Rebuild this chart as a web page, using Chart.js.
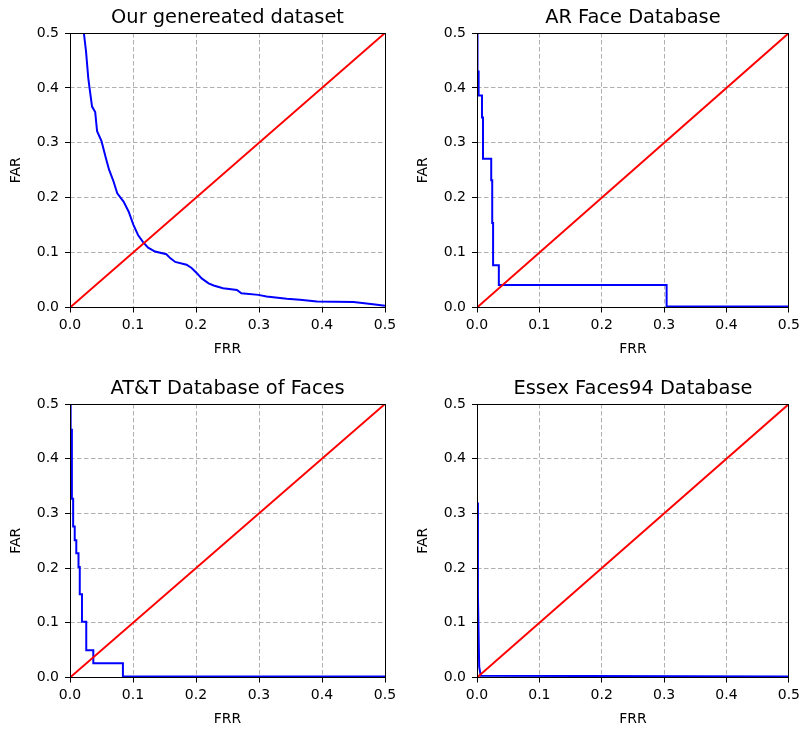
<!DOCTYPE html>
<html>
<head>
<meta charset="utf-8">
<script src="https://cdn.jsdelivr.net/npm/chart.js@4.4.1/dist/chart.umd.min.js"></script>
<style>
  html, body { margin: 0; padding: 0; background: #fff; }
  body { width: 804px; height: 731px; position: relative; overflow: hidden; }
  .panel { position: absolute; }
</style>
</head>
<body>
<div class="panel" id="p0"><canvas id="c0"></canvas></div>
<div class="panel" id="p1"><canvas id="c1"></canvas></div>
<div class="panel" id="p2"><canvas id="c2"></canvas></div>
<div class="panel" id="p3"><canvas id="c3"></canvas></div>
<script>
// values
const ourFrr = [0.022, 0.0254, 0.029, 0.031, 0.035, 0.040, 0.043, 0.050, 0.057, 0.062, 0.069, 0.075, 0.085, 0.093, 0.1005, 0.108, 0.116, 0.124, 0.135, 0.153, 0.159, 0.167, 0.185, 0.193, 0.201, 0.209, 0.220, 0.228, 0.243, 0.265, 0.272, 0.299, 0.312, 0.344, 0.365, 0.392, 0.45, 0.481, 0.5];
const ourFar = [0.5, 0.467, 0.418, 0.4, 0.366, 0.356, 0.321, 0.303, 0.272, 0.251, 0.23, 0.208, 0.193, 0.175, 0.151, 0.132, 0.119, 0.109, 0.102, 0.097, 0.09, 0.083, 0.078, 0.072, 0.063, 0.053, 0.044, 0.040, 0.035, 0.032, 0.026, 0.023, 0.020, 0.016, 0.014, 0.011, 0.010, 0.006, 0.003];

const arFrr = [0.0008, 0.0008, 0.0026, 0.008, 0.0096, 0.0228, 0.0244, 0.0258, 0.035, 0.304, 0.5];
const arFar = [0.6, 0.43, 0.386, 0.346, 0.271, 0.232, 0.154, 0.077, 0.041, 0.002, 0.002];

const attFrr = [0.001, 0.001, 0.003, 0.005, 0.0075, 0.010, 0.0135, 0.0155, 0.019, 0.0258, 0.037, 0.084, 0.5];
const attFar = [0.6, 0.453, 0.327, 0.276, 0.251, 0.227, 0.202, 0.152, 0.102, 0.05, 0.026, 0.002, 0.002];

const essexFrr = [0.0003, 0.0015, 0.0035, 0.006, 0.5];
const essexFar = [0.32, 0.15, 0.02, 0.003, 0.002];

// equal error line FAR = FRR
const eerFrr = [0, 0.5];
const eerFar = [0, 0.5];

const titles = ['Our genereated dataset', 'AR Face Database', 'AT&T Database of Faces', 'Essex Faces94 Database'];
const tickValues = [0, 0.1, 0.2, 0.3, 0.4, 0.5];

const FONT = 'DejaVu Sans';

function pts(xs, ys) {
  return xs.map((x, i) => ({ x: x, y: ys[i] }));
}

// same rounding chart.js uses for 1px grid lines
function crisp(v) {
  return Math.round(v - 0.5) + 0.5;
}

const framePlugin = {
  id: 'frame',
  afterDatasetsDraw(chart) {
    const { ctx, chartArea: a } = chart;
    const l = crisp(a.left), t = crisp(a.top), r = crisp(a.right), b = crisp(a.bottom);
    ctx.save();
    ctx.strokeStyle = '#000';
    ctx.lineWidth = 1;
    ctx.strokeRect(l, t, r - l, b - t);
    ctx.restore();
  },
  afterDraw(chart) {
    const { ctx, chartArea: a } = chart;
    ctx.save();
    ctx.fillStyle = '#000';
    ctx.font = '19.4px "' + FONT + '"';
    ctx.textAlign = 'center';
    ctx.textBaseline = 'alphabetic';
    ctx.fillText(chart.options.plugins.frame.text, (a.left + a.right) / 2, a.top - 10);
    ctx.restore();
  }
};

function makeChart(n, frr, far, stepped, cont, plot) {
  const div = document.getElementById('p' + n);
  div.style.left = cont.left + 'px';
  div.style.top = cont.top + 'px';
  div.style.width = cont.w + 'px';
  div.style.height = cont.h + 'px';

  const yWidth = plot.left - cont.left;
  const xHeight = 53.5;
  const padRight = cont.left + cont.w - plot.right;
  const padTop = plot.top - cont.top;
  const padBottom = cont.top + cont.h - plot.bottom - xHeight;
  const yTitlePad = (plot.left - 54 - cont.left) - 8.34;

  const axis = (label) => ({
    type: 'linear',
    min: 0,
    max: 0.5,
    afterBuildTicks: (s) => { s.ticks = tickValues.map(v => ({ value: v })); },
    ticks: {
      autoSkip: false,
      color: '#000',
      font: { family: FONT, size: 14 },
      callback: (v) => Number(v).toFixed(1)
    },
    grid: {
      color: '#b0b0b0',
      lineWidth: 1,
      tickLength: 5,
      tickColor: '#000',
      tickWidth: 1,
      tickBorderDash: []
    },
    border: { display: false, dash: [4.5, 2.5] },
    title: {
      display: true,
      text: label,
      color: '#000',
      font: { family: FONT, size: 14 }
    }
  });

  const x = axis('FRR');
  x.ticks.padding = 4;
  x.title.padding = { top: 0, bottom: 3.6 };
  x.afterFit = (s) => { s.height = xHeight; };

  const y = axis('FAR');
  y.ticks.padding = 6;
  y.title.padding = { top: yTitlePad, bottom: 0 };
  y.afterFit = (s) => { s.width = yWidth; };

  new Chart(document.getElementById('c' + n), {
    type: 'line',
    data: {
      datasets: [
        {
          data: pts(eerFrr, eerFar),
          borderColor: '#ff0000',
          borderWidth: 2,
          pointRadius: 0,
          clip: 0
        },
        {
          data: pts(frr, far),
          borderColor: '#0000ff',
          borderWidth: 2,
          pointRadius: 0,
          stepped: stepped ? 'before' : false,
          clip: 0
        }
      ]
    },
    options: {
      responsive: true,
      maintainAspectRatio: false,
      devicePixelRatio: 1,
      animation: false,
      layout: { padding: { left: 0, right: padRight, top: padTop, bottom: padBottom } },
      plugins: {
        legend: { display: false },
        tooltip: { enabled: false },
        frame: { text: titles[n] }
      },
      scales: { x: x, y: y }
    },
    plugins: [framePlugin]
  });
}

makeChart(0, ourFrr, ourFar, false, { left: 0, top: 0, w: 402, h: 366 }, { left: 70, top: 33, right: 385, bottom: 307.5 });
makeChart(1, arFrr, arFar, true, { left: 402, top: 0, w: 402, h: 366 }, { left: 477, top: 33, right: 790, bottom: 307.5 });
makeChart(2, attFrr, attFar, true, { left: 0, top: 366, w: 402, h: 365 }, { left: 70, top: 404, right: 385, bottom: 677.5 });
makeChart(3, essexFrr, essexFar, false, { left: 402, top: 366, w: 402, h: 365 }, { left: 477, top: 404, right: 790, bottom: 677.5 });
</script>
</body>
</html>
